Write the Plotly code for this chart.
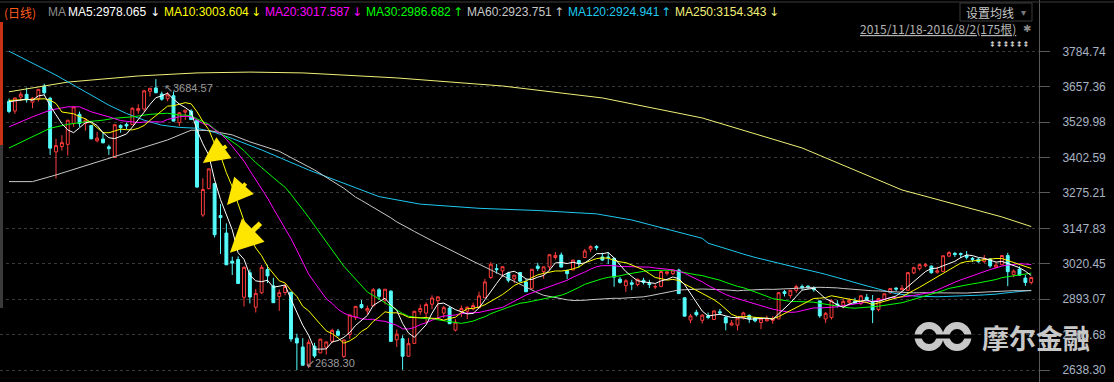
import plotly.graph_objects as go
import pandas as pd

# ---------------- data ----------------
dates = (
    ["2015-11-%02d" % d for d in [18, 19, 20, 23, 24, 25, 26, 27, 30]]
    + ["2015-12-%02d" % d for d in [1, 2, 3, 4, 7, 8, 9, 10, 11, 14, 15, 16, 17, 18, 21, 22, 23, 24, 25, 28, 29, 30, 31]]
    + ["2016-01-%02d" % d for d in [4, 5, 6, 7, 8, 11, 12, 13, 14, 15, 18, 19, 20, 21, 22, 25, 26, 27, 28, 29]]
    + ["2016-02-%02d" % d for d in [1, 2, 3, 4, 5, 15, 16, 17, 18, 19, 22, 23, 24, 25, 26, 29]]
    + ["2016-03-%02d" % d for d in [1, 2, 3, 4, 7, 8, 9, 10, 11, 14, 15, 16, 17, 18, 21, 22, 23, 24, 25, 28, 29, 30, 31]]
    + ["2016-04-%02d" % d for d in [1, 5, 6, 7, 8, 11, 12, 13, 14, 15, 18, 19, 20, 21, 22, 25, 26, 27, 28, 29]]
    + ["2016-05-%02d" % d for d in [3, 4, 5, 6, 9, 10, 11, 12, 13, 16, 17, 18, 19, 20, 23, 24, 25, 26, 27, 30, 31]]
    + ["2016-06-%02d" % d for d in [1, 2, 3, 6, 7, 8, 13, 14, 15, 16, 17, 20, 21, 22, 23, 24, 27, 28, 29, 30]]
    + ["2016-07-%02d" % d for d in [1, 4, 5, 6, 7, 8, 11, 12, 13, 14, 15, 18, 19, 20, 21, 22, 25, 26, 27, 28, 29]]
    + ["2016-08-%02d" % d for d in [1, 2]]
)

opens = [3605, 3570, 3620, 3630, 3602, 3614, 3659, 3616, 3423,
         3442, 3450, 3525, 3558, 3525, 3518, 3463, 3469, 3441, 3403, 3518, 3522, 3521, 3571, 3577, 3641, 3653, 3631, 3614, 3625, 3528, 3566, 3570,
         3536, 3196, 3291, 3309, 3194, 3131, 3030, 3036, 2900, 2988, 2864, 2916, 3000, 2941, 2903, 2917, 2918, 2753, 2721, 2654,
         2724, 2700, 2720, 2742, 2778, 2687, 2766, 2827, 2874, 2851, 2869, 2927, 2890, 2922, 2747, 2751,
         2688, 2734, 2848, 2843, 2875, 2888, 2843, 2861, 2782, 2849, 2850, 2858, 2862, 2898, 2971, 3003, 2995, 2987, 2966, 2989, 2955, 2932, 3012,
         2992, 3009, 3043, 3052, 2996, 2998, 3032, 3043, 3073, 3083, 3045, 3045, 3040, 2965, 2942, 2952, 2946, 2961, 2950, 2937,
         2939, 2986, 2985, 2998, 2898, 2818, 2846, 2817, 2833, 2820, 2848, 2828, 2800, 2800, 2827, 2835, 2826, 2809, 2815, 2817, 2822,
         2920, 2906, 2925, 2939, 2940, 2935, 2887, 2822, 2827, 2876, 2871, 2882, 2886, 2877, 2900, 2882, 2856, 2892, 2916, 2933,
         2927, 2925, 2988, 3003, 3013, 3012, 2990, 2993, 3048, 3058, 3057, 3050, 3040, 3037, 3028, 3038, 3008, 3017, 3050, 2981, 3001,
         2969, 2953]
highs = [3615, 3618, 3640, 3654, 3620, 3648, 3668, 3621, 3470,
         3483, 3538, 3585, 3568, 3543, 3518, 3495, 3493, 3449, 3521, 3522, 3528, 3583, 3594, 3646, 3652, 3684.57, 3640, 3638, 3640, 3566, 3573, 3576,
         3538, 3328, 3362, 3309, 3235, 3166, 3046, 3047, 3011, 3000, 2930, 3016, 3017, 2970, 2928, 2950, 2918, 2769, 2753, 2748,
         2736, 2750, 2741, 2787, 2786, 2748, 2836, 2868, 2890, 2870, 2933, 2933, 2929, 2925, 2784, 2763,
         2753, 2849, 2874, 2882, 2907, 2903, 2869, 2866, 2821, 2870, 2867, 2880, 2920, 2966, 3026, 3020, 3010, 2992, 2980, 2990, 2965, 3000, 3024,
         3010, 3053, 3063, 3061, 3000, 3034, 3035, 3074, 3087, 3087, 3060, 3062, 3043, 2973, 2965, 2963, 2967, 2970, 2963, 2947,
         2993, 2993, 2998, 3003, 2900, 2840, 2855, 2839, 2845, 2852, 2858, 2832, 2818, 2829, 2848, 2838, 2829, 2825, 2834, 2832, 2917,
         2926, 2926, 2945, 2946, 2943, 2939, 2888, 2847, 2893, 2890, 2894, 2896, 2898, 2906, 2912, 2908, 2896, 2913, 2932, 2936,
         2944, 2990, 3010, 3019, 3023, 3015, 3010, 3050, 3066, 3063, 3061, 3066, 3045, 3042, 3052, 3041, 3026, 3052, 3060, 3000, 3011,
         2980, 2972]
lows = [3562, 3560, 3607, 3600, 3580, 3604, 3629, 3412, 3327,
        3428, 3410, 3513, 3513, 3499, 3468, 3457, 3454, 3412, 3402, 3492, 3505, 3521, 3560, 3568, 3622, 3633, 3607, 3605, 3532, 3515, 3538, 3538,
        3295, 3189, 3288, 3115, 3056, 3016, 2980, 2949, 2867, 2878, 2845, 2912, 2951, 2880, 2851, 2907, 2740, 2638.30, 2654, 2645,
        2682, 2699, 2694, 2735, 2759, 2682, 2750, 2818, 2859, 2838, 2869, 2890, 2874, 2741, 2721, 2639,
        2686, 2734, 2837, 2808, 2857, 2820, 2825, 2804, 2777, 2829, 2822, 2853, 2861, 2898, 2966, 2985, 2974, 2953, 2951, 2957, 2919, 2932, 2995,
        2967, 2995, 3036, 3008, 2965, 2998, 3007, 3043, 3063, 3069, 3030, 3020, 2938, 2949, 2920, 2926, 2939, 2946, 2933, 2930,
        2936, 2978, 2980, 2912, 2831, 2807, 2831, 2806, 2821, 2819, 2836, 2781, 2798, 2781, 2820, 2808, 2810, 2785, 2813, 2805, 2822,
        2903, 2896, 2916, 2926, 2929, 2920, 2826, 2807, 2820, 2863, 2860, 2871, 2877, 2872, 2886, 2807, 2849, 2890, 2912, 2921,
        2925, 2925, 2983, 2996, 3008, 2985, 2985, 2993, 3044, 3045, 3041, 3036, 3027, 3024, 3023, 3006, 3005, 3016, 2940, 2972, 2979,
        2941, 2946]
closes = [3568.47, 3617.06, 3630.50, 3610.31, 3616.11, 3647.93, 3635.55, 3436.30, 3445.40,
          3456.31, 3536.91, 3584.82, 3524.99, 3536.93, 3470.07, 3472.44, 3455.50, 3434.58, 3520.67, 3510.35, 3516.19, 3580.00, 3578.96, 3642.47, 3651.77, 3636.09, 3612.49, 3627.91, 3533.78, 3563.74, 3572.88, 3539.18,
          3296.26, 3287.71, 3361.84, 3125.00, 3186.41, 3016.70, 3022.86, 2949.60, 3007.65, 2900.97, 2913.84, 3007.74, 2976.69, 2880.48, 2916.56, 2938.51, 2749.79, 2735.56, 2655.66, 2737.60,
          2688.85, 2749.57, 2739.25, 2781.02, 2763.49, 2746.20, 2836.57, 2867.34, 2862.89, 2860.02, 2927.18, 2903.33, 2928.90, 2741.25, 2767.21, 2687.98,
          2733.17, 2849.68, 2859.76, 2874.15, 2897.34, 2901.39, 2862.56, 2804.73, 2810.31, 2859.50, 2864.37, 2870.43, 2904.83, 2955.15, 3018.80, 2999.36, 3009.96, 2960.97, 2979.43, 2957.82, 2919.83, 3000.65, 3003.92,
          3009.53, 3053.07, 3050.59, 3008.42, 2984.96, 3033.96, 3023.65, 3066.64, 3082.36, 3078.12, 3033.66, 3042.82, 2972.58, 2953.67, 2959.24, 2946.67, 2964.70, 2953.50, 2945.59, 2938.32,
          2992.64, 2991.27, 2997.84, 2913.25, 2832.11, 2832.59, 2837.04, 2835.86, 2827.11, 2850.86, 2843.68, 2807.51, 2806.91, 2825.48, 2843.65, 2821.67, 2815.09, 2822.44, 2821.05, 2822.45, 2916.62,
          2913.51, 2925.23, 2938.68, 2934.10, 2936.04, 2927.16, 2833.07, 2842.19, 2887.21, 2872.80, 2885.11, 2888.81, 2878.56, 2905.55, 2891.96, 2854.29, 2895.70, 2912.56, 2931.59, 2929.61,
          2932.48, 2988.60, 3006.39, 3017.29, 3016.85, 2988.09, 2994.92, 3049.38, 3060.69, 3054.02, 3054.30, 3043.56, 3036.60, 3027.90, 3039.05, 3012.82, 3015.83, 3050.17, 2992.00, 2994.32, 2979.34,
          2953.39, 2971.28]

ma5_lead = [3603, 3606, 3610, 3613]
ma10_lead = [3608, 3609, 3610, 3612, 3613, 3614, 3614, 3609, 3597]
ma20_lead_bars = [0, 4, 7, 10, 12, 14, 17]
ma20_lead_vals = [3513, 3549, 3573, 3585, 3585, 3567, 3549]
ma30_lead_bars = [0, 4, 7, 10, 13, 16, 18, 21, 24, 27]
ma30_lead_vals = [3437, 3478, 3508, 3522, 3531, 3537, 3544, 3549, 3558, 3562]
ma60_lead_bars = [0, 4, 8, 18, 27, 31, 34, 38, 41, 46, 52, 57]
ma60_lead_vals = [3316, 3316, 3340, 3406, 3466, 3501, 3500, 3484, 3459, 3425, 3358, 3292]
ma120_lead_bars = [0, 3, 8, 13, 17, 20, 23, 26, 29, 32, 35, 38, 43, 51, 63, 70, 80, 90, 100, 106, 112, 118]
ma120_lead_vals = [3785, 3753, 3699, 3639, 3591, 3561, 3537, 3519, 3511, 3508, 3493, 3471, 3430, 3358, 3262, 3235, 3220, 3212, 3200, 3178, 3145, 3112]
ma250_bars = [0, 10, 22, 32, 41, 50, 66, 84, 101, 118, 135, 152, 169, 174]
ma250_vals = [3639, 3674, 3696, 3707, 3710, 3707, 3689, 3660, 3617, 3545, 3437, 3286, 3189, 3154.34]

tick_vals = [2638.30, 2765.68, 2893.07, 3020.45, 3147.83, 3275.21, 3402.59, 3529.98, 3657.36, 3784.74]
tick_text = ["2638.30", "2765.68", "2893.07", "3020.45", "3147.83", "3275.21", "3402.59", "3529.98", "3657.36", "3784.74"]

legend_items = [("MA5", "2978.065", "↓"), ("MA10", "3003.604", "↓"), ("MA20", "3017.587", "↓"),
                ("MA30", "2986.682", "↑"), ("MA60", "2923.751", "↑"), ("MA120", "2924.941", "↑"),
                ("MA250", "3154.343", "↓")]

# ---------------- styles ----------------
W, H = 1114, 382
PLOT_W = 1039
RED = "#FF3C3C"
CYAN = "#54FCFC"
MA_COLORS = {"MA5": "#FFFFFF", "MA10": "#FFFF00", "MA20": "#FF00FF", "MA30": "#00FF00",
             "MA60": "#C8C8C8", "MA120": "#1EC8F0", "MA250": "#F0F078"}
LEGEND_X = {"MA5": 66, "MA10": 162, "MA20": 263, "MA30": 364, "MA60": 465, "MA120": 566, "MA250": 673}
ARROW_X = {"MA5": 155, "MA10": 256, "MA20": 357, "MA30": 458, "MA60": 559, "MA120": 666, "MA250": 774}
SANS = "Liberation Sans, Arial, sans-serif"
CJK = "Noto Sans CJK SC, sans-serif"


def px(x):
    return x / PLOT_W


def py(y):
    return 1 - y / H


n = len(closes)
bars = list(range(n))
s = pd.Series(closes)


def ma_line(lead_bars, lead_vals, window):
    rolled = s.rolling(window).mean()
    xs = list(lead_bars) + bars[window - 1:]
    ys = list(lead_vals) + rolled.iloc[window - 1:].tolist()
    return xs, ys


ma_series = {
    "MA5": ma_line(range(4), ma5_lead, 5),
    "MA10": ma_line(range(9), ma10_lead, 10),
    "MA20": ma_line(ma20_lead_bars, ma20_lead_vals, 20),
    "MA30": ma_line(ma30_lead_bars, ma30_lead_vals, 30),
    "MA60": ma_line(ma60_lead_bars, ma60_lead_vals, 60),
    "MA120": ma_line(ma120_lead_bars, ma120_lead_vals, 120),
    "MA250": (ma250_bars, ma250_vals),
}

fig = go.Figure()
fig.add_trace(go.Candlestick(
    x=bars, open=opens, high=highs, low=lows, close=closes, text=dates,
    increasing=dict(line=dict(color=RED, width=1), fillcolor="#000000"),
    decreasing=dict(line=dict(color=CYAN, width=1), fillcolor=CYAN),
    whiskerwidth=0, showlegend=False, hoverinfo="skip"))

for name in ["MA250", "MA120", "MA60", "MA30", "MA20", "MA10", "MA5"]:
    xs, ys = ma_series[name]
    fig.add_trace(go.Scatter(x=xs, y=ys, mode="lines", line=dict(color=MA_COLORS[name], width=1),
                             showlegend=False, hoverinfo="skip"))

ann = []
# header legend
ann.append(dict(x=px(2), y=py(12), xref="paper", yref="paper", xanchor="left", yanchor="middle",
                text="(日线)", showarrow=False, font=dict(family=CJK, size=12, color="#FF5A1E")))
ann.append(dict(x=px(46), y=py(12), xref="paper", yref="paper", xanchor="left", yanchor="middle",
                text="MA", showarrow=False, font=dict(family=SANS, size=12, color="#8C8C8C")))
for name, val, arr in legend_items:
    ann.append(dict(x=px(LEGEND_X[name]), y=py(12), xref="paper", yref="paper", xanchor="left", yanchor="middle",
                    text=f"{name}:{val}", showarrow=False, font=dict(family=SANS, size=12, color=MA_COLORS[name])))
    ann.append(dict(x=px(ARROW_X[name]), y=py(12), xref="paper", yref="paper", xanchor="center", yanchor="middle",
                    text=arr, showarrow=False, font=dict(family="DejaVu Sans", size=12, color=MA_COLORS[name])))

# top-right controls
ann.append(dict(x=px(990), y=py(12), xref="paper", yref="paper", xanchor="center", yanchor="middle",
                text="设置均线", showarrow=False, font=dict(family=CJK, size=12, color="#C8C8C8")))
ann.append(dict(x=px(1023), y=py(12), xref="paper", yref="paper", xanchor="center", yanchor="middle",
                text="▾", showarrow=False, font=dict(family="DejaVu Sans", size=10, color="#7A7A7A")))
ann.append(dict(x=px(1018), y=py(28.5), xref="paper", yref="paper", xanchor="right", yanchor="middle",
                text="<u>2015/11/18-2016/8/2(175根)</u>", showarrow=False,
                font=dict(family=CJK, size=12, color="#B4B4B4")))
ann.append(dict(x=px(1027), y=py(28.5), xref="paper", yref="paper", xanchor="center", yanchor="middle",
                text="✱", showarrow=False, font=dict(family="DejaVu Sans", size=10, color="#8A8A8A")))
ann.append(dict(x=px(1031), y=py(45), xref="paper", yref="paper", xanchor="right", yanchor="middle",
                text="⇞⇞⇞⇞⇞⇞", showarrow=False, font=dict(family="DejaVu Sans", size=8, color="#E6E6E6")))

# high / low labels
i_hi = max(bars, key=lambda i: highs[i])
i_lo = min(bars, key=lambda i: lows[i])
ann.append(dict(x=i_hi + 1.05, y=highs[i_hi] - 32, xref="x", yref="y", xanchor="left", yanchor="middle",
                text="↖%.2f" % highs[i_hi], showarrow=False, font=dict(family=SANS, size=11, color="#9A9A9A")))
ann.append(dict(x=i_lo + 1.2, y=lows[i_lo] + 25, xref="x", yref="y", xanchor="left", yanchor="middle",
                text="↙%.2f" % lows[i_lo], showarrow=False, font=dict(family=SANS, size=11, color="#9A9A9A")))

# yellow hand-drawn arrows pointing at the crash
for (bx, vy, ax, ay, w) in [(33.0, 3383, 25, -18, 4), (37.1, 3232, 20, -23, 4), (37.6, 3060, 32, -31, 5)]:
    ann.append(dict(x=bx, y=vy, xref="x", yref="y", ax=ax, ay=ay, axref="pixel", ayref="pixel",
                    showarrow=True, arrowhead=2, arrowsize=1.3, arrowwidth=w, arrowcolor="#FFE600", text=""))

# watermark text
ann.append(dict(x=px(980), y=py(337), xref="paper", yref="paper", xanchor="left", yanchor="middle",
                text="<b>摩尔金融</b>", showarrow=False, font=dict(family=CJK, size=27, color="#C8C8C8")))

shapes = []
# top border line
shapes.append(dict(type="line", xref="paper", yref="paper", x0=0, x1=px(W), y0=py(2), y1=py(2),
                   line=dict(color="#3C3C3C", width=1)))
# settings box
shapes.append(dict(type="rect", xref="paper", yref="paper", x0=px(960), x1=px(1032), y0=py(3), y1=py(21),
                   line=dict(color="#3A3A3A", width=1), fillcolor="rgba(0,0,0,0)"))
# left scroll strip
shapes.append(dict(type="rect", xref="paper", yref="paper", x0=0, x1=px(3), y0=py(22), y1=py(145),
                   line=dict(width=0), fillcolor="#C83214"))
shapes.append(dict(type="rect", xref="paper", yref="paper", x0=0, x1=px(3), y0=py(145), y1=py(308),
                   line=dict(width=0), fillcolor="#3A3A3A"))
# watermark logo: two rings with a slit
for cx in (929, 957):
    shapes.append(dict(type="circle", xref="paper", yref="paper", x0=px(cx - 11), x1=px(cx + 11),
                       y0=py(336.5 - 11), y1=py(336.5 + 11), line=dict(color="#C8C8C8", width=7)))
shapes.append(dict(type="rect", xref="paper", yref="paper", x0=px(912), x1=px(975), y0=py(334.5), y1=py(338.5),
                   line=dict(width=0), fillcolor="#000000"))

fig.update_layout(
    width=W, height=H, autosize=False,
    margin=dict(l=0, r=W - PLOT_W, t=0, b=0, pad=0),
    paper_bgcolor="#000000", plot_bgcolor="#000000",
    showlegend=False,
    xaxis=dict(range=[-1.532, 175.32], visible=False, rangeslider=dict(visible=False), fixedrange=True),
    yaxis=dict(side="right", range=[2595.2, 3969.3], tickvals=tick_vals, ticktext=tick_text,
               showgrid=True, gridcolor="#3A3A3A", griddash="dot", gridwidth=1, zeroline=False,
               showline=True, linecolor="#5A5A5A", linewidth=1, ticks="outside", ticklen=10, tickcolor="#5A5A5A",
               tickfont=dict(family=SANS, size=12, color="#A8B4C4"), ticklabelstandoff=10, fixedrange=True),
    annotations=ann, shapes=shapes,
)

fig.write_html("out.html")
